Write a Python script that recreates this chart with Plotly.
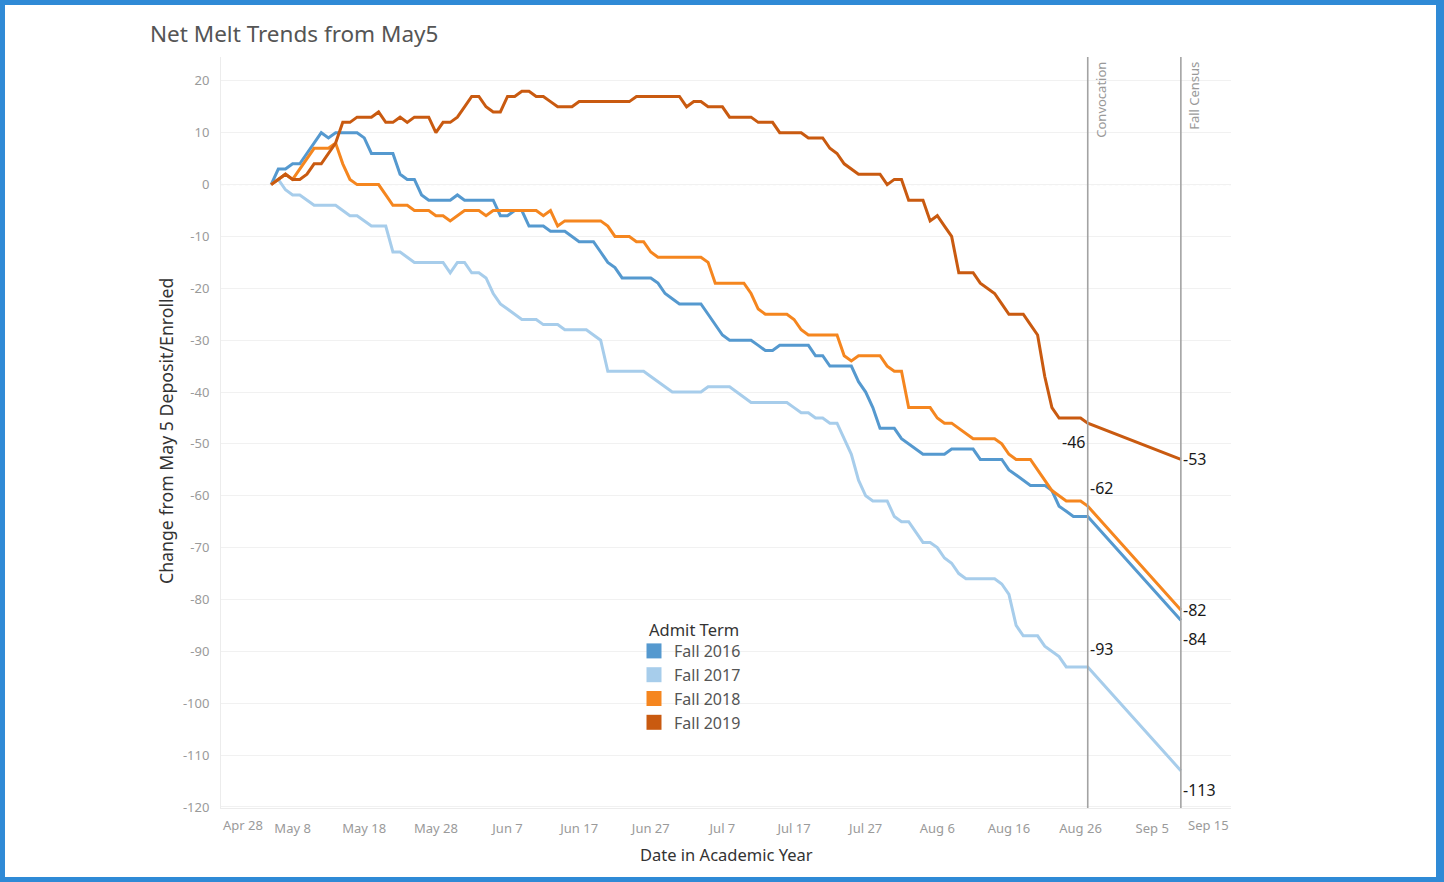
import plotly.graph_objects as go
import pandas as pd

# ---------------- data ----------------
series_names = ["Fall 2016", "Fall 2017", "Fall 2018", "Fall 2019"]

start_date = "2019-05-05"
convocation_date = "2019-08-27"
census_date = "2019-09-09"

fall_2016 = [0, 3, 3, 4, 4, 6, 8, 10, 9, 10,
             10, 10, 10, 9, 6, 6, 6, 6, 2, 1,
             1, -2, -3, -3, -3, -3, -2, -3, -3, -3,
             -3, -3, -6, -6, -5, -5, -8, -8, -8, -9,
             -9, -9, -10, -11, -11, -11, -13, -15, -16, -18,
             -18, -18, -18, -18, -19, -21, -22, -23, -23, -23,
             -23, -25, -27, -29, -30, -30, -30, -30, -31, -32,
             -32, -31, -31, -31, -31, -31, -33, -33, -35, -35,
             -35, -35, -38, -40, -43, -47, -47, -47, -49, -50,
             -51, -52, -52, -52, -52, -51, -51, -51, -51, -53,
             -53, -53, -53, -55, -56, -57, -58, -58, -58, -59,
             -62, -63, -64, -64, -64]
fall_2017 = [0, 1, -1, -2, -2, -3, -4, -4, -4, -4,
             -5, -6, -6, -7, -8, -8, -8, -13, -13, -14,
             -15, -15, -15, -15, -15, -17, -15, -15, -17, -17,
             -18, -21, -23, -24, -25, -26, -26, -26, -27, -27,
             -27, -28, -28, -28, -28, -29, -30, -36, -36, -36,
             -36, -36, -36, -37, -38, -39, -40, -40, -40, -40,
             -40, -39, -39, -39, -39, -40, -41, -42, -42, -42,
             -42, -42, -42, -43, -44, -44, -45, -45, -46, -46,
             -49, -52, -57, -60, -61, -61, -61, -64, -65, -65,
             -67, -69, -69, -70, -72, -73, -75, -76, -76, -76,
             -76, -76, -77, -79, -85, -87, -87, -87, -89, -90,
             -91, -93, -93, -93, -93]
fall_2018 = [0, 1, 2, 1, 3, 5, 7, 7, 7, 8,
             4, 1, 0, 0, 0, 0, -2, -4, -4, -4,
             -5, -5, -5, -6, -6, -7, -6, -5, -5, -5,
             -6, -5, -5, -5, -5, -5, -5, -5, -6, -5,
             -8, -7, -7, -7, -7, -7, -7, -8, -10, -10,
             -10, -11, -11, -13, -14, -14, -14, -14, -14, -14,
             -14, -15, -19, -19, -19, -19, -19, -21, -24, -25,
             -25, -25, -25, -26, -28, -29, -29, -29, -29, -29,
             -33, -34, -33, -33, -33, -33, -35, -36, -36, -43,
             -43, -43, -43, -45, -46, -46, -47, -48, -49, -49,
             -49, -49, -50, -52, -53, -53, -53, -55, -57, -59,
             -60, -61, -61, -61, -62]
fall_2019 = [0, 1, 2, 1, 1, 2, 4, 4, 6, 8,
             12, 12, 13, 13, 13, 14, 12, 12, 13, 12,
             13, 13, 13, 10, 12, 12, 13, 15, 17, 17,
             15, 14, 14, 17, 17, 18, 18, 17, 17, 16,
             15, 15, 15, 16, 16, 16, 16, 16, 16, 16,
             16, 17, 17, 17, 17, 17, 17, 17, 15, 16,
             16, 15, 15, 15, 13, 13, 13, 13, 12, 12,
             12, 10, 10, 10, 10, 9, 9, 9, 7, 6,
             4, 3, 2, 2, 2, 2, 0, 1, 1, -3,
             -3, -3, -7, -6, -8, -10, -17, -17, -17, -19,
             -20, -21, -23, -25, -25, -25, -27, -29, -37, -43,
             -45, -45, -45, -45, -46]
census_values = [-84, -113, -82, -53]

x_tick_dates = ["2019-04-28", "2019-05-08", "2019-05-18", "2019-05-28", "2019-06-07",
                "2019-06-17", "2019-06-27", "2019-07-07", "2019-07-17", "2019-07-27",
                "2019-08-06", "2019-08-16", "2019-08-26", "2019-09-05", "2019-09-15"]
x_tick_labels = ["Apr 28", "May 8", "May 18", "May 28", "Jun 7", "Jun 17", "Jun 27",
                 "Jul 7", "Jul 17", "Jul 27", "Aug 6", "Aug 16", "Aug 26", "Sep 5", "Sep 15"]
y_tick_values = [20, 10, 0, -10, -20, -30, -40, -50, -60, -70, -80, -90, -100, -110, -120]
y_tick_labels = [str(v) for v in y_tick_values]

reference_lines = ["Convocation", "Fall Census"]

# ---------------- style ----------------
W, H = 1444, 882
PL, PR, PT, PB = 221, 1231, 57, 808
X_RANGE = ["2019-04-28", "2019-09-16"]
Y_RANGE = [-120.2, 24.6]
colors = {"Fall 2016": "#5599cf", "Fall 2017": "#a7cdeb",
          "Fall 2018": "#f5861f", "Fall 2019": "#c95a10"}
FONT = "Noto Sans"
TICK_FONT = dict(family=FONT, size=13, color="#9a9a9a")


def xp(px):
    return (px - PL) / (PR - PL)


def yp(py):
    return (PB - py) / (PB - PT)


daily_dates = list(pd.date_range(start_date, convocation_date, freq="D").strftime("%Y-%m-%d"))
x_all = daily_dates + [census_date]
values = {"Fall 2016": fall_2016, "Fall 2017": fall_2017,
          "Fall 2018": fall_2018, "Fall 2019": fall_2019}

fig = go.Figure()
for name, cen in zip(series_names, census_values):
    fig.add_trace(go.Scatter(
        x=x_all, y=values[name] + [cen], mode="lines", name=name,
        line=dict(color=colors[name], width=3), showlegend=False,
        hovertemplate="%{x|%b %d}: %{y}<extra>" + name + "</extra>"))

# legend entries with square swatches
for name in series_names:
    fig.add_trace(go.Scatter(
        x=[None], y=[None], mode="markers", name=name,
        marker=dict(symbol="square", size=15, color=colors[name]), showlegend=True))

shapes = []
shapes.append(dict(type="line", xref="paper", x0=0, x1=1, yref="y", y0=0, y1=0,
                   line=dict(color="#cfcfcf", width=1, dash="dot"), layer="below"))
for d in [convocation_date, census_date]:
    shapes.append(dict(type="line", xref="x", x0=d, x1=d, yref="paper", y0=0, y1=1,
                       line=dict(color="#a3a3a3", width=1.6), layer="above"))
frame_col = "#2f8ad6"
for (a, b, c, d) in [(0, 0, W, 5), (0, H - 5, W, H), (0, 0, 5, H), (W - 8, 0, W, H)]:
    shapes.append(dict(type="rect", xref="paper", yref="paper",
                       x0=xp(a), x1=xp(c), y0=yp(d), y1=yp(b),
                       line=dict(width=0), fillcolor=frame_col, layer="above"))

annotations = []
annotations.append(dict(text="Net Melt Trends from May5", xref="paper", yref="paper",
                        x=xp(148), y=yp(33), xanchor="left", yanchor="middle", showarrow=False,
                        font=dict(family=FONT, size=22.5, color="#555555")))
annotations.append(dict(text="Change from May 5 Deposit/Enrolled", xref="paper", yref="paper",
                        x=xp(166), y=yp(431), xanchor="center", yanchor="middle", textangle=-90,
                        showarrow=False, font=dict(family=FONT, size=17.7, color="#333333")))
annotations.append(dict(text="Date in Academic Year", xref="paper", yref="paper",
                        x=xp(726), y=yp(854), xanchor="center", yanchor="middle",
                        showarrow=False, font=dict(family=FONT, size=16.5, color="#333333")))
# legend heading
annotations.append(dict(text="Admit Term", xref="paper", yref="paper",
                        x=xp(647), y=yp(629), xanchor="left", yanchor="middle",
                        showarrow=False, font=dict(family=FONT, size=16.5, color="#333333")))
annotations.append(dict(text=x_tick_labels[0], xref="x", x=x_tick_dates[0], yref="paper",
                        y=yp(825), xanchor="left", yanchor="middle", showarrow=False, xshift=0,
                        font=TICK_FONT))
annotations.append(dict(text=x_tick_labels[-1], xref="x", x=X_RANGE[1], yref="paper",
                        y=yp(825), xanchor="right", yanchor="middle", showarrow=False, xshift=0,
                        font=TICK_FONT))
for lbl, d in zip(reference_lines, [convocation_date, census_date]):
    annotations.append(dict(text=lbl, xref="x", x=d, yref="paper", y=1, xanchor="left",
                            yanchor="top", textangle=-90, showarrow=False, xshift=2, yshift=-3,
                            font=dict(family=FONT, size=13, color="#999999")))

lab_font = dict(family=FONT, size=16, color="#1a1a1a")
conv_labels = {"Fall 2019": ("right", "top", -1, -6),
               "Fall 2018": ("left", "bottom", 0, 5),
               "Fall 2017": ("left", "bottom", 0, 5)}
for name, (xa, ya, xs, ys) in conv_labels.items():
    v = values[name][-1]
    annotations.append(dict(text=str(v), x=convocation_date, y=v, xanchor=xa, yanchor=ya,
                            xshift=xs, yshift=ys, showarrow=False, font=lab_font))
cen_labels = {"Fall 2019": ("middle", 0), "Fall 2018": ("middle", 0),
              "Fall 2016": ("top", -6), "Fall 2017": ("top", -6)}
for name, cen in zip(series_names, census_values):
    ya, ys = cen_labels[name]
    annotations.append(dict(text=str(cen), x=census_date, y=cen, xanchor="left", yanchor=ya,
                            xshift=0, yshift=ys, showarrow=False, font=lab_font))

fig.update_layout(
    width=W, height=H,
    margin=dict(l=PL, r=W - PR, t=PT, b=H - PB, pad=0),
    paper_bgcolor="white", plot_bgcolor="white",
    font=dict(family=FONT),
    shapes=shapes, annotations=annotations,
    legend=dict(x=xp(634), y=yp(634), xanchor="left", yanchor="top",
                bgcolor="rgba(0,0,0,0)", borderwidth=0,
                font=dict(family=FONT, size=16, color="#555555"),
                itemwidth=30, tracegroupgap=0),
    xaxis=dict(type="date", range=X_RANGE, tickvals=x_tick_dates[1:-1],
               ticktext=x_tick_labels[1:-1], showgrid=False, zeroline=False,
               showline=True, linecolor="#ececec", linewidth=1, ticks="",
               ticklabelstandoff=8, tickfont=TICK_FONT),
    yaxis=dict(range=Y_RANGE, tickvals=y_tick_values, ticktext=y_tick_labels,
               showgrid=True, gridcolor="#f1f1f1", gridwidth=1, zeroline=False,
               showline=True, linecolor="#ececec", linewidth=1, ticks="",
               ticklabelstandoff=8, tickfont=TICK_FONT),
)

fig.write_html("out.html", config={"displayModeBar": False},
               post_script="document.body.style.margin='0';")
